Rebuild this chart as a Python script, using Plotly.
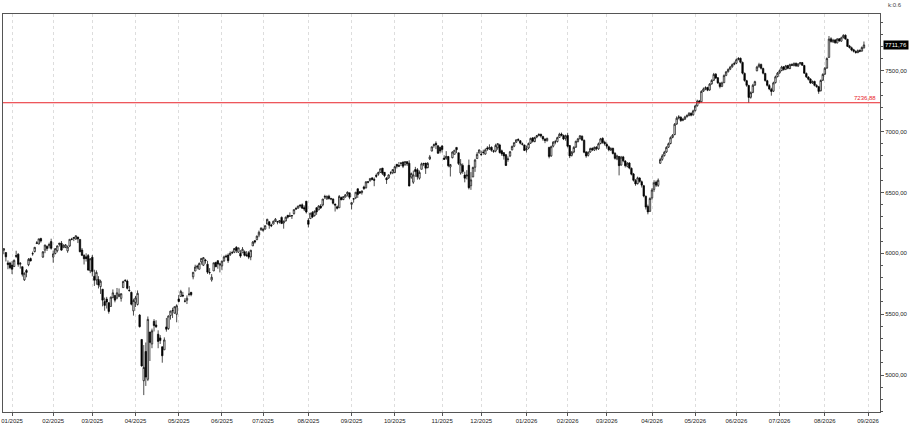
import pandas as pd
import plotly.graph_objects as go

# exchange holidays, used to build the trading-day axis
holidays = ['2025-01-01', '2025-01-09', '2025-01-20', '2025-02-17', '2025-04-18',
            '2025-05-26', '2025-06-19', '2025-07-04', '2025-09-01', '2025-11-27',
            '2025-12-25', '2026-01-01', '2026-01-19', '2026-02-16', '2026-04-03',
            '2026-05-25', '2026-06-19', '2026-07-03']
first_day = '2024-12-26'
axis_end = '2026-09-01'   # one slot past the data so the 09/2026 tick exists

ref_level = 7236.88       # red horizontal line
corner_text = 'k:0.6'

open_ = [
    6025, 6006, 5921, 5920,  # 12/2024
    5903, 5891, 5982, 5993, 5910, 5890, 5782, 5859, 5906, 5957, 5995, 6014, 6080, 6076, 6121, 5969, 6026, 6058, 6062, 6096,
    5969, 5998, 6021, 6072, 6083, 6046, 6049, 6020, 6060, 6115, 6121, 6117, 6134, 6114, 6027, 5983, 5971, 5981, 5856,
    5968, 5811, 5781, 5785, 5726, 5705, 5603, 5624, 5594, 5563, 5635, 5654, 5632, 5646, 5630, 5718, 5775, 5772, 5696, 5679, 5527,
    5597, 5580, 5492, 5292, 4953, 5193, 4965, 5353, 5255, 5441, 5411, 5335, 5305, 5232, 5207, 5395, 5381, 5489, 5529, 5508, 5499,
    5625, 5645, 5655, 5606, 5614, 5663, 5679, 5807, 5854, 5886, 5869, 5929, 5902, 5944, 5910, 5841, 5781, 5855, 5925, 5939, 5903,
    5896, 5938, 5978, 5985, 5987, 6004, 6009, 6049, 6009, 6000, 6004, 6012, 5987, 6005, 5970, 6061, 6104, 6112, 6150, 6193,
    6187, 6199, 6240, 6259, 6232, 6240, 6263, 6256, 6255, 6295, 6249, 6265, 6312, 6304, 6306, 6326, 6368, 6370, 6397, 6398, 6375, 6428,
    6271, 6285, 6336, 6309, 6374, 6356, 6389, 6397, 6461, 6446, 6469, 6445, 6445, 6405, 6382, 6374, 6458, 6441, 6462, 6487, 6497,
    6402, 6445, 6456, 6530, 6505, 6498, 6545, 6538, 6588, 6594, 6619, 6607, 6641, 6649, 6665, 6700, 6665, 6617, 6619, 6661, 6661,
    6664, 6731, 6722, 6740, 6749, 6727, 6753, 6740, 6626, 6584, 6688, 6686, 6617, 6690, 6737, 6741, 6704, 6775, 6840, 6884, 6904, 6883, 6870,
    6881, 6782, 6781, 6795, 6709, 6785, 6813, 6870, 6825, 6660, 6722, 6643, 6634, 6723, 6555, 6627, 6707, 6778, 6823,
    6813, 6830, 6815, 6866, 6856, 6871, 6837, 6840, 6867, 6890, 6842, 6826, 6810, 6770, 6800, 6850, 6880, 6912, 6935, 6925, 6899, 6890,
    6850, 6865, 6905, 6948, 6918, 6955, 6968, 6978, 6960, 6938, 6925, 6870, 6800, 6880, 6915, 6918, 6952, 6980, 6968, 6945,
    6968, 6885, 6805, 6832, 6872, 6918, 6942, 6962, 6928, 6832, 6805, 6832, 6862, 6848, 6872, 6858, 6902, 6945, 6912,
    6895, 6875, 6848, 6862, 6822, 6775, 6795, 6725, 6792, 6758, 6715, 6742, 6698, 6652, 6598, 6572, 6618, 6588, 6555, 6468, 6385, 6345,
    6455, 6525, 6585, 6558, 6740, 6772, 6802, 6832, 6872, 6902, 6952, 6975, 7062, 7112, 7118, 7092, 7102, 7122, 7132, 7150, 7138,
    7172, 7212, 7252, 7245, 7332, 7352, 7362, 7342, 7392, 7422, 7472, 7442, 7398, 7372, 7402, 7462, 7492, 7512, 7532, 7552,
    7562, 7592, 7602, 7568, 7478, 7418, 7378, 7282, 7322, 7382, 7500, 7532, 7552, 7518, 7478, 7418, 7378, 7348, 7332, 7402, 7452,
    7482, 7502, 7532, 7512, 7542, 7518, 7552, 7543, 7562, 7538, 7557, 7567, 7543, 7478, 7448, 7432, 7398, 7412, 7378, 7368, 7335, 7422,
    7472, 7522, 7610, 7762, 7738, 7752, 7728, 7762, 7743, 7772, 7792, 7758, 7702, 7688, 7672, 7658, 7648, 7667, 7662, 7688,
]

high = [
    6040, 6006, 5941, 5930,
    5935, 5949, 6021, 6000, 5927, 5890, 5843, 5871, 5961, 5965, 6014, 6052, 6100, 6119, 6128, 6018, 6070, 6062, 6087, 6120,
    6022, 6042, 6062, 6084, 6101, 6073, 6076, 6064, 6116, 6127, 6130, 6147, 6134, 6115, 6043, 5992, 6000, 5994, 5959,
    5986, 5865, 5860, 5812, 5783, 5705, 5636, 5642, 5597, 5645, 5703, 5654, 5715, 5711, 5670, 5775, 5787, 5784, 5732, 5685, 5627,
    5650, 5695, 5500, 5292, 5246, 5267, 5481, 5353, 5381, 5459, 5450, 5367, 5328, 5232, 5309, 5469, 5489, 5528, 5553, 5563, 5581,
    5658, 5700, 5683, 5631, 5654, 5720, 5683, 5845, 5906, 5906, 5924, 5958, 5969, 5954, 5938, 5878, 5829, 5922, 5930, 5943, 5922,
    5937, 5981, 5990, 5999, 6016, 6021, 6044, 6059, 6045, 6026, 6051, 6023, 6018, 6018, 6028, 6101, 6109, 6146, 6187, 6215,
    6211, 6227, 6284, 6262, 6243, 6269, 6290, 6266, 6272, 6302, 6268, 6301, 6315, 6336, 6310, 6360, 6381, 6389, 6401, 6409, 6393, 6428,
    6288, 6330, 6346, 6352, 6379, 6395, 6404, 6446, 6481, 6473, 6481, 6456, 6452, 6407, 6393, 6479, 6466, 6466, 6485, 6508, 6497,
    6417, 6455, 6502, 6532, 6512, 6513, 6555, 6592, 6593, 6615, 6626, 6623, 6656, 6671, 6696, 6701, 6667, 6626, 6649, 6674, 6690,
    6718, 6731, 6750, 6749, 6754, 6754, 6755, 6764, 6664, 6680, 6710, 6700, 6680, 6745, 6744, 6743, 6750, 6808, 6876, 6901, 6920, 6887, 6875,
    6890, 6805, 6839, 6800, 6734, 6838, 6848, 6870, 6827, 6774, 6738, 6670, 6683, 6770, 6667, 6712, 6776, 6831, 6853,
    6843, 6851, 6862, 6880, 6895, 6878, 6850, 6900, 6904, 6900, 6852, 6832, 6815, 6797, 6841, 6885, 6910, 6936, 6945, 6930, 6910, 6892,
    6885, 6910, 6950, 6955, 6958, 6972, 6985, 6982, 6965, 6945, 6950, 6875, 6885, 6922, 6932, 6958, 6990, 6992, 6975, 6975,
    6990, 6890, 6840, 6880, 6925, 6948, 6972, 6968, 6935, 6840, 6838, 6868, 6870, 6878, 6880, 6910, 6948, 6952, 6925,
    6910, 6885, 6872, 6868, 6830, 6810, 6800, 6800, 6800, 6765, 6750, 6748, 6705, 6660, 6610, 6630, 6625, 6598, 6562, 6475, 6400, 6460,
    6535, 6600, 6598, 6615, 6785, 6815, 6842, 6880, 6910, 6960, 6980, 7070, 7125, 7135, 7125, 7112, 7130, 7142, 7160, 7158, 7180,
    7220, 7262, 7260, 7340, 7362, 7372, 7368, 7398, 7430, 7482, 7480, 7448, 7405, 7410, 7470, 7498, 7520, 7540, 7560, 7575,
    7600, 7612, 7608, 7575, 7485, 7425, 7385, 7330, 7392, 7418, 7540, 7565, 7558, 7525, 7482, 7425, 7390, 7360, 7410, 7460, 7490,
    7510, 7540, 7538, 7548, 7548, 7558, 7560, 7568, 7565, 7562, 7572, 7570, 7548, 7485, 7455, 7438, 7420, 7418, 7390, 7375, 7428, 7478,
    7530, 7610, 7785, 7775, 7762, 7760, 7768, 7768, 7780, 7800, 7798, 7762, 7712, 7698, 7680, 7668, 7675, 7675, 7700, 7740,
]

low = [
    5992, 5933, 5869, 5869,
    5829, 5888, 5960, 5890, 5874, 5809, 5773, 5803, 5894, 5934, 5980, 6007, 6076, 6074, 6088, 5962, 6001, 6019, 6040, 6030,
    5923, 5991, 6007, 6056, 6020, 6045, 6042, 6004, 6051, 6107, 6100, 6111, 6084, 6008, 5977, 5908, 5932, 5858, 5837,
    5810, 5732, 5742, 5711, 5666, 5564, 5528, 5546, 5504, 5563, 5631, 5597, 5622, 5641, 5603, 5718, 5764, 5703, 5686, 5572, 5488,
    5558, 5571, 5390, 5069, 4835, 4910, 4950, 5115, 5220, 5358, 5386, 5220, 5255, 5101, 5207, 5356, 5371, 5455, 5468, 5505, 5433,
    5597, 5644, 5640, 5596, 5583, 5646, 5647, 5786, 5853, 5869, 5867, 5907, 5895, 5915, 5830, 5825, 5767, 5855, 5887, 5873, 5843,
    5861, 5929, 5966, 5921, 5978, 5994, 6001, 6002, 6003, 5963, 6004, 5974, 5971, 5952, 5943, 6060, 6080, 6108, 6132, 6186,
    6177, 6194, 6240, 6202, 6215, 6237, 6258, 6238, 6245, 6242, 6202, 6263, 6285, 6303, 6282, 6317, 6360, 6368, 6375, 6365, 6347, 6327,
    6212, 6283, 6289, 6302, 6316, 6356, 6364, 6385, 6445, 6441, 6441, 6436, 6401, 6343, 6360, 6374, 6438, 6437, 6459, 6467, 6444,
    6360, 6416, 6445, 6455, 6488, 6482, 6520, 6532, 6575, 6592, 6600, 6551, 6620, 6637, 6661, 6643, 6625, 6570, 6611, 6646, 6650,
    6657, 6697, 6708, 6717, 6700, 6720, 6717, 6550, 6612, 6570, 6628, 6605, 6605, 6690, 6716, 6652, 6698, 6766, 6838, 6867, 6856, 6817, 6821,
    6828, 6767, 6768, 6707, 6631, 6780, 6813, 6823, 6725, 6646, 6654, 6583, 6607, 6525, 6521, 6626, 6669, 6777, 6823,
    6798, 6810, 6810, 6842, 6850, 6835, 6825, 6830, 6850, 6820, 6800, 6770, 6718, 6752, 6790, 6845, 6872, 6908, 6920, 6895, 6885, 6840,
    6828, 6855, 6898, 6910, 6912, 6945, 6960, 6950, 6925, 6905, 6918, 6780, 6792, 6870, 6895, 6910, 6948, 6960, 6930, 6925,
    6870, 6782, 6795, 6822, 6865, 6910, 6935, 6922, 6822, 6785, 6795, 6825, 6840, 6840, 6845, 6850, 6895, 6900, 6885,
    6860, 6838, 6840, 6812, 6770, 6765, 6640, 6720, 6748, 6705, 6705, 6690, 6640, 6590, 6555, 6565, 6580, 6540, 6460, 6360, 6320, 6340,
    6440, 6505, 6545, 6545, 6735, 6760, 6795, 6825, 6865, 6895, 6945, 6970, 7055, 7100, 7080, 7085, 7095, 7115, 7125, 7125, 7130,
    7165, 7205, 7230, 7240, 7325, 7340, 7332, 7335, 7385, 7415, 7432, 7392, 7355, 7365, 7398, 7455, 7485, 7505, 7525, 7545,
    7555, 7585, 7560, 7470, 7410, 7368, 7235, 7270, 7315, 7375, 7495, 7525, 7510, 7470, 7410, 7370, 7340, 7295, 7325, 7395, 7445,
    7475, 7495, 7500, 7505, 7512, 7512, 7538, 7535, 7532, 7530, 7550, 7540, 7475, 7440, 7420, 7392, 7392, 7372, 7360, 7310, 7330, 7415,
    7465, 7515, 7605, 7730, 7728, 7722, 7725, 7738, 7738, 7765, 7755, 7695, 7682, 7660, 7650, 7640, 7645, 7652, 7655, 7682,
]

close = [
    6038, 5971, 5907, 5882,
    5869, 5942, 5975, 5909, 5918, 5827, 5836, 5843, 5950, 5937, 5997, 6049, 6086, 6119, 6101, 6012, 6068, 6039, 6071, 6041,
    5995, 6038, 6061, 6084, 6026, 6066, 6069, 6052, 6115, 6115, 6130, 6144, 6118, 6013, 5983, 5955, 5956, 5862, 5955,
    5850, 5778, 5843, 5739, 5770, 5615, 5572, 5599, 5522, 5639, 5675, 5615, 5675, 5663, 5668, 5768, 5777, 5712, 5693, 5581, 5612,
    5633, 5671, 5397, 5074, 5062, 4983, 5457, 5268, 5363, 5406, 5397, 5276, 5283, 5158, 5288, 5376, 5485, 5525, 5529, 5561, 5569,
    5604, 5687, 5650, 5607, 5631, 5664, 5660, 5844, 5887, 5893, 5917, 5958, 5964, 5940, 5845, 5842, 5803, 5922, 5889, 5912, 5912,
    5936, 5970, 5971, 5939, 6000, 6006, 6039, 6022, 6045, 5977, 6033, 5983, 5981, 5968, 6025, 6092, 6092, 6141, 6173, 6205,
    6198, 6227, 6279, 6230, 6226, 6263, 6280, 6260, 6269, 6244, 6264, 6297, 6297, 6306, 6310, 6359, 6363, 6389, 6390, 6371, 6363, 6339,
    6238, 6330, 6299, 6345, 6340, 6389, 6373, 6446, 6467, 6469, 6450, 6449, 6411, 6396, 6370, 6467, 6439, 6466, 6481, 6502, 6460,
    6416, 6448, 6502, 6482, 6495, 6513, 6532, 6587, 6584, 6615, 6607, 6600, 6632, 6664, 6694, 6657, 6638, 6605, 6644, 6661, 6688,
    6711, 6715, 6716, 6740, 6715, 6754, 6735, 6553, 6655, 6644, 6671, 6629, 6664, 6735, 6735, 6699, 6738, 6792, 6875, 6891, 6891, 6822, 6840,
    6852, 6772, 6796, 6720, 6729, 6832, 6847, 6851, 6737, 6734, 6672, 6617, 6642, 6539, 6603, 6705, 6766, 6813, 6849,
    6812, 6829, 6850, 6857, 6870, 6846, 6840, 6886, 6901, 6827, 6816, 6800, 6721, 6775, 6834, 6878, 6909, 6932, 6930, 6905, 6896, 6845,
    6858, 6902, 6944, 6920, 6951, 6966, 6977, 6963, 6940, 6926, 6944, 6796, 6876, 6913, 6915, 6950, 6978, 6970, 6939, 6965,
    6880, 6800, 6830, 6870, 6920, 6940, 6965, 6930, 6830, 6800, 6830, 6860, 6850, 6870, 6860, 6900, 6940, 6910, 6900,
    6880, 6850, 6860, 6820, 6780, 6800, 6720, 6790, 6760, 6720, 6740, 6700, 6650, 6600, 6570, 6620, 6590, 6560, 6470, 6380, 6340, 6450,
    6520, 6580, 6560, 6600, 6770, 6800, 6830, 6870, 6900, 6950, 6970, 7060, 7110, 7120, 7090, 7100, 7120, 7130, 7150, 7135, 7170,
    7210, 7250, 7240, 7330, 7350, 7360, 7340, 7390, 7420, 7470, 7440, 7400, 7370, 7400, 7460, 7490, 7510, 7530, 7550, 7560,
    7590, 7600, 7570, 7480, 7420, 7380, 7280, 7320, 7380, 7410, 7530, 7550, 7520, 7480, 7420, 7380, 7350, 7330, 7400, 7450, 7480,
    7500, 7530, 7510, 7540, 7520, 7550, 7545, 7560, 7540, 7555, 7565, 7545, 7480, 7450, 7430, 7400, 7410, 7380, 7370, 7330, 7420, 7470,
    7520, 7600, 7760, 7740, 7750, 7730, 7760, 7745, 7770, 7790, 7760, 7700, 7690, 7670, 7660, 7650, 7665, 7660, 7690, 7711.76,
]

axis_days = pd.bdate_range(first_day, axis_end, freq='C', holidays=holidays)
n = min(len(open_), len(high), len(low), len(close))
pos = list(range(n))
day_txt = [d.strftime('%d/%m/%Y') for d in axis_days[:n]]

# month ticks on the first trading day of each month
tick_pos, tick_txt = [], []
prev = None
for i, d in enumerate(axis_days):
    if d.month != prev:
        prev = d.month
        if d.year >= 2025:
            tick_pos.append(i)
            tick_txt.append(d.strftime('%m/%Y'))

def fmt(v):
    return f'{v:.2f}'.replace('.', ',')

fig = go.Figure()
fig.add_trace(go.Candlestick(
    x=pos, open=open_[:n], high=high[:n], low=low[:n], close=close[:n],
    text=day_txt, hoverinfo='text+y',
    increasing=dict(line=dict(color='black', width=0.7), fillcolor='white'),
    decreasing=dict(line=dict(color='black', width=0.7), fillcolor='black'),
    whiskerwidth=0,
))

fig.add_shape(type='line', xref='paper', x0=0, x1=1, yref='y', y0=ref_level, y1=ref_level,
              line=dict(color='#e8242b', width=1))

fig.add_annotation(xref='paper', x=1, xanchor='right', xshift=-2, y=ref_level, yanchor='bottom',
                   text=fmt(ref_level), showarrow=False, font=dict(color='#e8242b', size=6))
fig.add_annotation(xref='paper', x=1, xanchor='left', xshift=3, y=close[n - 1], yanchor='middle',
                   text=fmt(close[n - 1]), showarrow=False, bgcolor='black', borderpad=1,
                   font=dict(color='white', size=6))
fig.add_annotation(xref='paper', x=1, xanchor='left', xshift=6, yref='paper', y=1, yanchor='bottom',
                   yshift=4, text=corner_text, showarrow=False, font=dict(color='#444', size=6))

fig.update_layout(
    width=918, height=438,
    margin=dict(l=1, r=38, t=14, b=26),
    paper_bgcolor='white', plot_bgcolor='white',
    showlegend=False, separators=', ', boxgap=0.0,
    font=dict(family='Liberation Sans, Arial, sans-serif', size=6, color='#222'),
    xaxis=dict(range=[-0.4, 425.8], tickmode='array', tickvals=tick_pos, ticktext=tick_txt,
               showgrid=True, gridcolor='#dddddd', griddash='dot', gridwidth=1,
               ticks='outside', ticklen=3, tickcolor='#555', ticklabeloverflow='allow',
               showline=True, linecolor='#555', mirror=True, zeroline=False,
               rangeslider=dict(visible=False), tickfont=dict(size=6)),
    yaxis=dict(side='right', range=[4696, 7966], tick0=5000, dtick=500, tickformat='.2f',
               showgrid=False, zeroline=False, ticks='outside', ticklen=3, tickcolor='#555',
               minor=dict(dtick=100, ticks='outside', ticklen=2, tickcolor='#555', showgrid=False),
               showline=True, linecolor='#555', mirror=True, tickfont=dict(size=6)),
)

# the page body has a default 8px margin; remove it so the figure sits at the window origin
fig.write_html('out.html', config={'displayModeBar': False},
               post_script="document.body.style.margin='0px';")
